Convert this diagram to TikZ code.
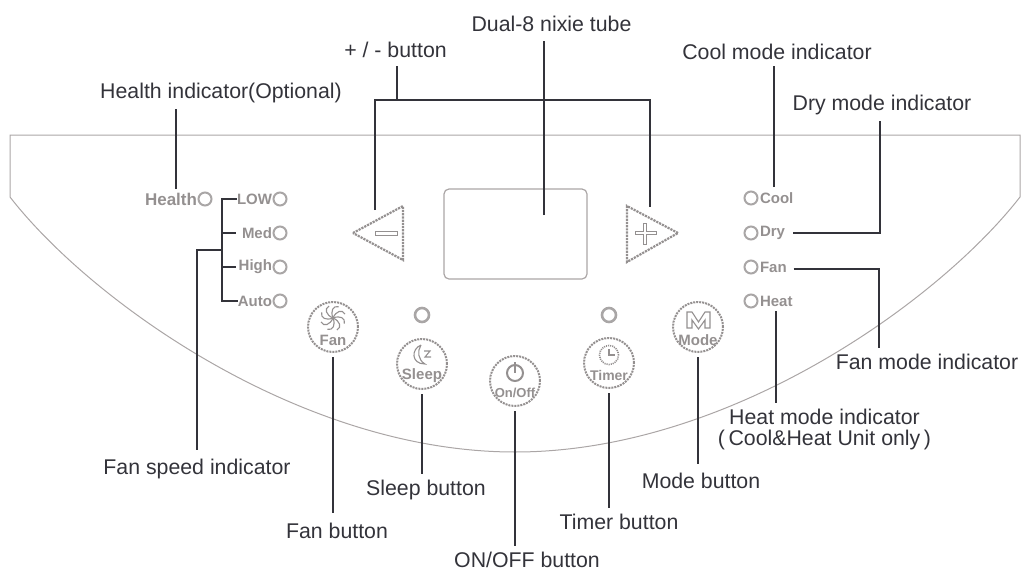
\documentclass[tikz,border=0pt]{standalone}
\usepackage{xcolor}
\usepackage{fontspec}
\setmainfont{Liberation Sans}
\usepackage{tikz}
\definecolor{PanelLine}{HTML}{ABA6A6}
\definecolor{PanelGray}{HTML}{949090}
\definecolor{LeaderDark}{HTML}{33333A}
\tikzset{
  leader/.style={LeaderDark,line width=1.7pt},
  calltext/.style={text=LeaderDark,inner sep=0pt,outer sep=6pt,font=\fontsize{21.3}{21}\selectfont},
  lamp/.style={circle,draw=PanelGray!80,line width=2pt,inner sep=0pt,minimum size=13pt},
  lamptext/.style={text=PanelGray,inner sep=0pt,outer sep=0pt,font=\bfseries\fontsize{15}{15}\selectfont},
  pushbtn/.style={circle,draw=PanelGray,line width=2pt,densely dotted,inner sep=0pt,outer sep=5pt,minimum size=50pt},
  pushtext/.style={text=PanelGray,inner sep=0pt,font=\bfseries\fontsize{15}{15}\selectfont},
  icon/.style={draw=PanelGray,line width=1.1pt}
}

\begin{document}
\begin{tikzpicture}[x=1pt,y=-1pt]
\path[use as bounding box] (0,0) rectangle (1021,571);
% panel outline
\draw[PanelLine,line width=1pt] (515,135) -- (10,135) -- (10,197) .. controls (90,300) and (300,452) .. (515,452) .. controls (730,452) and (940,300) .. (1020,197) -- (1020,135) -- (515,135);
% display
\node[draw=PanelLine,line width=1.2pt,rounded corners=5pt,minimum width=143pt,minimum height=90pt,inner sep=0pt] (display) at (515.5,234) {};
% left lamps
\node[lamp] (lampHealth) at (205,199) {};
\node[lamptext,anchor=east,font=\bfseries\fontsize{17}{17}\selectfont] (txtHealth) at (197,199) {Health};
\node[lamp] (lampLow) at (280,199) {};
\node[lamptext,anchor=east] (txtLow) at (272,199) {LOW};
\node[lamp] (lampMed) at (280,233) {};
\node[lamptext,anchor=east] (txtMed) at (272,233) {Med};
\node[lamp] (lampHigh) at (280,267) {};
\node[lamptext,anchor=east] (txtHigh) at (272,267) {High};
\node[lamp] (lampAuto) at (280,301) {};
\node[lamptext,anchor=east] (txtAuto) at (272,301) {Auto};
% right lamps
\node[lamp] (lampCool) at (751,198) {};
\node[lamptext,anchor=west] (txtCool) at (760,198) {Cool};
\node[lamp] (lampDry) at (751,233) {};
\node[lamptext,anchor=west] (txtDry) at (760,233) {Dry};
\node[lamp] (lampFan) at (751,267) {};
\node[lamptext,anchor=west] (txtFan) at (760,267) {Fan};
\node[lamp] (lampHeat) at (751,301) {};
\node[lamptext,anchor=west] (txtHeat) at (760,301) {Heat};
\node[lamp,line width=2.6pt,minimum size=14pt] (lampSleep) at (422,315) {};
\node[lamp,line width=2.6pt,minimum size=14pt] (lampTimer) at (609,315) {};
% plus and minus
\draw[PanelGray,line width=2.2pt,densely dotted] (353,233) -- (403,206) -- (403,260) -- cycle;
\draw[PanelGray,line width=1pt] (375,231) rectangle (397,235);
\draw[PanelGray,line width=2.2pt,densely dotted] (678,233) -- (627,206) -- (627,262) -- cycle;
\draw[PanelGray,line width=1pt] (635,231.5) -- (643.5,231.5) -- (643.5,223) -- (646.5,223) -- (646.5,231.5) -- (656,231.5) -- (656,234.5) -- (646.5,234.5) -- (646.5,244) -- (643.5,244) -- (643.5,234.5) -- (635,234.5) -- cycle;
% push buttons
\node[pushbtn] (btnFan) at (333,327) {};
\node[pushtext] (capFan) at (333,340) {Fan};
\draw[icon,rotate around={0:(333,318)}] (333,318) .. controls (336,311) and (342,309) .. (345,314);
\draw[icon,rotate around={45:(333,318)}] (333,318) .. controls (336,311) and (342,309) .. (345,314);
\draw[icon,rotate around={90:(333,318)}] (333,318) .. controls (336,311) and (342,309) .. (345,314);
\draw[icon,rotate around={135:(333,318)}] (333,318) .. controls (336,311) and (342,309) .. (345,314);
\draw[icon,rotate around={180:(333,318)}] (333,318) .. controls (336,311) and (342,309) .. (345,314);
\draw[icon,rotate around={225:(333,318)}] (333,318) .. controls (336,311) and (342,309) .. (345,314);
\draw[icon,rotate around={270:(333,318)}] (333,318) .. controls (336,311) and (342,309) .. (345,314);
\draw[icon,rotate around={315:(333,318)}] (333,318) .. controls (336,311) and (342,309) .. (345,314);
\node[pushbtn] (btnSleep) at (422,364) {};
\node[pushtext] (capSleep) at (422,376) {Sleep};
\draw[icon] (421,345) .. controls (411,349) and (411,364) .. (425,364) .. controls (418,360) and (417,351) .. (421,345);
\draw[icon] (424,351) -- (430,351) -- (425,357) -- (431,357);
\node[pushbtn] (btnOnOff) at (515,381) {};
\node[pushtext,font=\bfseries\fontsize{13}{13}\selectfont] (capOnOff) at (515,393) {On/Off};
\draw[icon,line width=2pt] (515,373) circle[radius=8pt];
\draw[icon,line width=2.4pt] (515,362) -- (515,373);
\node[pushbtn] (btnTimer) at (609,363) {};
\node[pushtext,font=\bfseries\fontsize{14}{14}\selectfont] (capTimer) at (609,375) {Timer};
\draw[icon,densely dotted,line width=1.6pt] (609,355) circle[radius=9.5pt];
\draw[icon] (609,349) -- (609,355) -- (615,355);
\node[pushbtn] (btnMode) at (698,327) {};
\node[pushtext] (capMode) at (698,340) {Mode};
\draw[icon] (687,328) -- (687,312) -- (692,312) -- (698.5,322) -- (705,312) -- (710,312) -- (710,328) -- (705,328) -- (705,320) -- (698.5,329) -- (692,320) -- (692,328) -- cycle;
% callout labels
\node[calltext] (lblDual) at (551.5,24) {Dual-8 nixie tube};
\node[calltext] (lblPm) at (395.5,50) {+ / - button};
\node[calltext] (lblHealth) at (221,93) {Health indicator(Optional)};
\node[calltext] (lblCool) at (777,52) {Cool mode indicator};
\node[calltext] (lblDry) at (882,105) {Dry mode indicator};
\node[calltext] (lblFanMode) at (927,362) {Fan mode indicator};
\node[calltext,align=center] (lblHeat) at (824.5,429) {Heat mode indicator\\(\,Cool\&Heat Unit only\,)};
\node[calltext] (lblSpeed) at (197,469) {Fan speed indicator};
\node[calltext] (lblSleep) at (426,490) {Sleep button};
\node[calltext] (lblFan) at (337,531) {Fan button};
\node[calltext] (lblOnOff) at (527,560) {ON/OFF button};
\node[calltext] (lblTimer) at (619,522) {Timer button};
\node[calltext] (lblMode) at (701,481) {Mode button};
% connector ends
\coordinate (tipHealth) at (176,189);
\coordinate (tipCool) at (774,187);
\coordinate (tipDual) at (544,215);
\coordinate (tipMinus) at (375,210);
\coordinate (tipPlus) at (650,207);
\coordinate (joinPm) at (397,100);
\coordinate (busFan) at (222,250);
\coordinate (bendDry) at (880,236);
\coordinate (bendFan) at (879,269);
% connectors
\draw[leader] (tipHealth) -- (tipHealth |- lblHealth.south);
\draw[leader] (tipCool) -- (tipCool |- lblCool.south);
\draw[leader,shorten >=3pt] (tipDual) -- (tipDual |- lblDual.south);
\draw[leader,shorten >=2pt] (joinPm) -- (joinPm |- lblPm.south);
\draw[leader] (tipMinus) -- (tipMinus |- joinPm) -- (tipPlus |- joinPm) -- (tipPlus);
\draw[leader] (txtLow.west) -- (txtLow.west -| busFan) -- (txtAuto.west -| busFan) -- (txtAuto.west);
\draw[leader] (busFan |- txtMed.west) -- (236,233);
\draw[leader] (busFan |- txtHigh.west) -- (236,267);
\draw[leader,shorten >=3pt] (busFan) -| (lblSpeed.north);
\draw[leader,shorten <=8pt] (txtDry.east) -- (txtDry.east -| bendDry) -- (bendDry |- lblDry.south);
\draw[leader,shorten <=7pt] (txtFan.east |- bendFan) -- (bendFan) -- (bendFan |- lblFanMode.north);
\draw[leader,shorten <=5pt] (txtHeat.south) -- (txtHeat.south |- lblHeat.north);
\draw[leader,shorten >=4pt] (btnFan.south) -- (btnFan.south |- lblFan.north);
\draw[leader] (btnSleep.south) -- (btnSleep.south |- lblSleep.north);
\draw[leader] (btnOnOff.south) -- (btnOnOff.south |- lblOnOff.north);
\draw[leader] (btnTimer.south) -- (btnTimer.south |- lblTimer.north);
\draw[leader,shorten >=3pt] (btnMode.south) -- (btnMode.south |- lblMode.north);
\end{tikzpicture}
\end{document}
